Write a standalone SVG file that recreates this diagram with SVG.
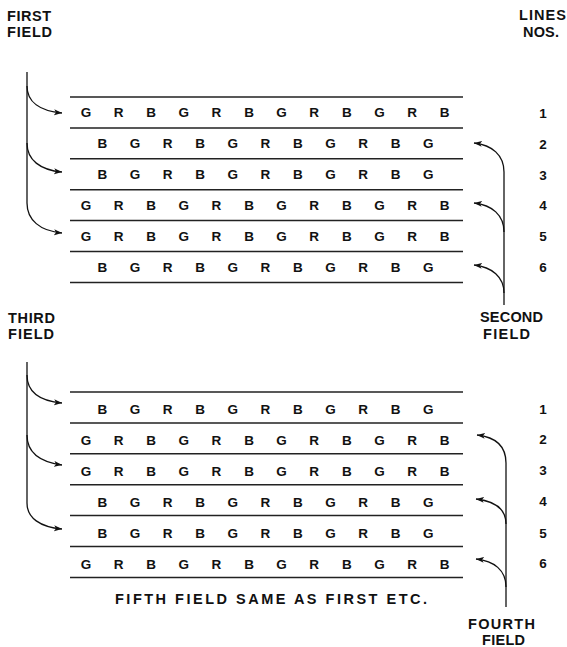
<svg xmlns="http://www.w3.org/2000/svg" width="567" height="647" viewBox="0 0 567 647">
<style>
.lbl{font-family:"Liberation Sans",Arial,sans-serif;font-weight:bold;font-size:14.5px;fill:#111}
.row{font-family:"Liberation Sans",Arial,sans-serif;font-weight:bold;font-size:13.5px;fill:#111;text-anchor:middle}
.num{font-family:"Liberation Sans",Arial,sans-serif;font-weight:bold;font-size:13.5px;fill:#111;text-anchor:middle}
.rule{stroke:#222;stroke-width:1.5;fill:none}
.conn{stroke:#111;stroke-width:1.3;fill:none}
.arr{stroke:#111;stroke-width:1.3;fill:none;marker-end:url(#ah)}
</style>
<defs>
<marker id="ah" markerUnits="userSpaceOnUse" markerWidth="9" markerHeight="7" refX="8" refY="3" orient="auto">
<path d="M0,0 L8,3 L0,6 L2,3 z" fill="#111"/>
</marker>
</defs>

<g id="labels">
<text class="lbl" x="7" y="20.7" textLength="44" lengthAdjust="spacing">FIRST</text>
<text class="lbl" x="7" y="36.7" textLength="45" lengthAdjust="spacing">FIELD</text>
<text class="lbl" x="519" y="20" textLength="47" lengthAdjust="spacing">LINES</text>
<text class="lbl" x="523" y="37" textLength="36" lengthAdjust="spacing">NOS.</text>
<text class="lbl" x="480" y="321.7" textLength="63" lengthAdjust="spacing">SECOND</text>
<text class="lbl" x="483" y="339.3" textLength="47" lengthAdjust="spacing">FIELD</text>
<text class="lbl" x="8" y="323.3" textLength="47" lengthAdjust="spacing">THIRD</text>
<text class="lbl" x="8" y="339" textLength="46" lengthAdjust="spacing">FIELD</text>
<text class="lbl" x="115" y="604" textLength="312" lengthAdjust="spacing">FIFTH FIELD SAME AS FIRST ETC.</text>
<text class="lbl" x="468" y="629" textLength="67" lengthAdjust="spacing">FOURTH</text>
<text class="lbl" x="482" y="645" textLength="43" lengthAdjust="spacing">FIELD</text>
</g>

<g id="top-block">
<path class="rule" d="M70,97H463M70,127.9H463M70,158.8H463M70,189.7H463M70,220.6H463M70,251.5H463M70,282.4H463"/>
<text class="row" y="117.3" x="86 118.6 151.2 183.8 216.4 249 281.6 314.2 346.8 379.4 412 444.6">GRBGRBGRBGRB</text>
<text class="row" y="148.3" x="102.3 134.9 167.5 200.1 232.7 265.3 297.9 330.5 363.1 395.7 428.3">BGRBGRBGRBG</text>
<text class="row" y="179" x="102.3 134.9 167.5 200.1 232.7 265.3 297.9 330.5 363.1 395.7 428.3">BGRBGRBGRBG</text>
<text class="row" y="210" x="86 118.6 151.2 183.8 216.4 249 281.6 314.2 346.8 379.4 412 444.6">GRBGRBGRBGRB</text>
<text class="row" y="240.8" x="86 118.6 151.2 183.8 216.4 249 281.6 314.2 346.8 379.4 412 444.6">GRBGRBGRBGRB</text>
<text class="row" y="271.8" x="102.3 134.9 167.5 200.1 232.7 265.3 297.9 330.5 363.1 395.7 428.3">BGRBGRBGRBG</text>
</g>

<g id="top-numbers">
<text class="num" x="543" y="118">1</text>
<text class="num" x="543" y="149">2</text>
<text class="num" x="543" y="180">3</text>
<text class="num" x="543" y="210">4</text>
<text class="num" x="543" y="240.5">5</text>
<text class="num" x="543" y="272">6</text>
</g>

<g id="bottom-block">
<path class="rule" d="M70,392H463M70,422.9H463M70,453.8H463M70,484.7H463M70,515.6H463M70,546.5H463M70,577.4H463"/>
<text class="row" y="413.8" x="102.3 134.9 167.5 200.1 232.7 265.3 297.9 330.5 363.1 395.7 428.3">BGRBGRBGRBG</text>
<text class="row" y="444.8" x="86 118.6 151.2 183.8 216.4 249 281.6 314.2 346.8 379.4 412 444.6">GRBGRBGRBGRB</text>
<text class="row" y="475.8" x="86 118.6 151.2 183.8 216.4 249 281.6 314.2 346.8 379.4 412 444.6">GRBGRBGRBGRB</text>
<text class="row" y="506.8" x="102.3 134.9 167.5 200.1 232.7 265.3 297.9 330.5 363.1 395.7 428.3">BGRBGRBGRBG</text>
<text class="row" y="537.8" x="102.3 134.9 167.5 200.1 232.7 265.3 297.9 330.5 363.1 395.7 428.3">BGRBGRBGRBG</text>
<text class="row" y="568.8" x="86 118.6 151.2 183.8 216.4 249 281.6 314.2 346.8 379.4 412 444.6">GRBGRBGRBGRB</text>
</g>

<g id="bottom-numbers">
<text class="num" x="543" y="414">1</text>
<text class="num" x="543" y="444">2</text>
<text class="num" x="543" y="475">3</text>
<text class="num" x="543" y="506">4</text>
<text class="num" x="543" y="538">5</text>
<text class="num" x="543" y="568">6</text>
</g>

<g id="connectors">
<path class="conn" d="M27,72V203"/>
<path class="arr" d="M27,86C27,102 40,111 62,113"/>
<path class="arr" d="M27,143C27,160 40,170 62,172"/>
<path class="arr" d="M27,203C27,220 40,231 62,233"/>

<path class="conn" d="M504,172V305"/>
<path class="arr" d="M504,172C504,155 492,145 474,143"/>
<path class="arr" d="M504,232C504,215 492,205 474,203"/>
<path class="arr" d="M504,293C504,277 492,267 474,265"/>

<path class="conn" d="M27,362V503"/>
<path class="arr" d="M27,375C27,392 40,401 62,403"/>
<path class="arr" d="M27,435C27,452 40,462 62,465"/>
<path class="arr" d="M27,503C27,518 40,527 62,529"/>

<path class="conn" d="M506,463V607"/>
<path class="arr" d="M506,463C506,446 495,437 477,435"/>
<path class="arr" d="M506,524C506,508 494,501 476,499"/>
<path class="arr" d="M506,587C506,570 494,561 476,559"/>
</g>
</svg>
